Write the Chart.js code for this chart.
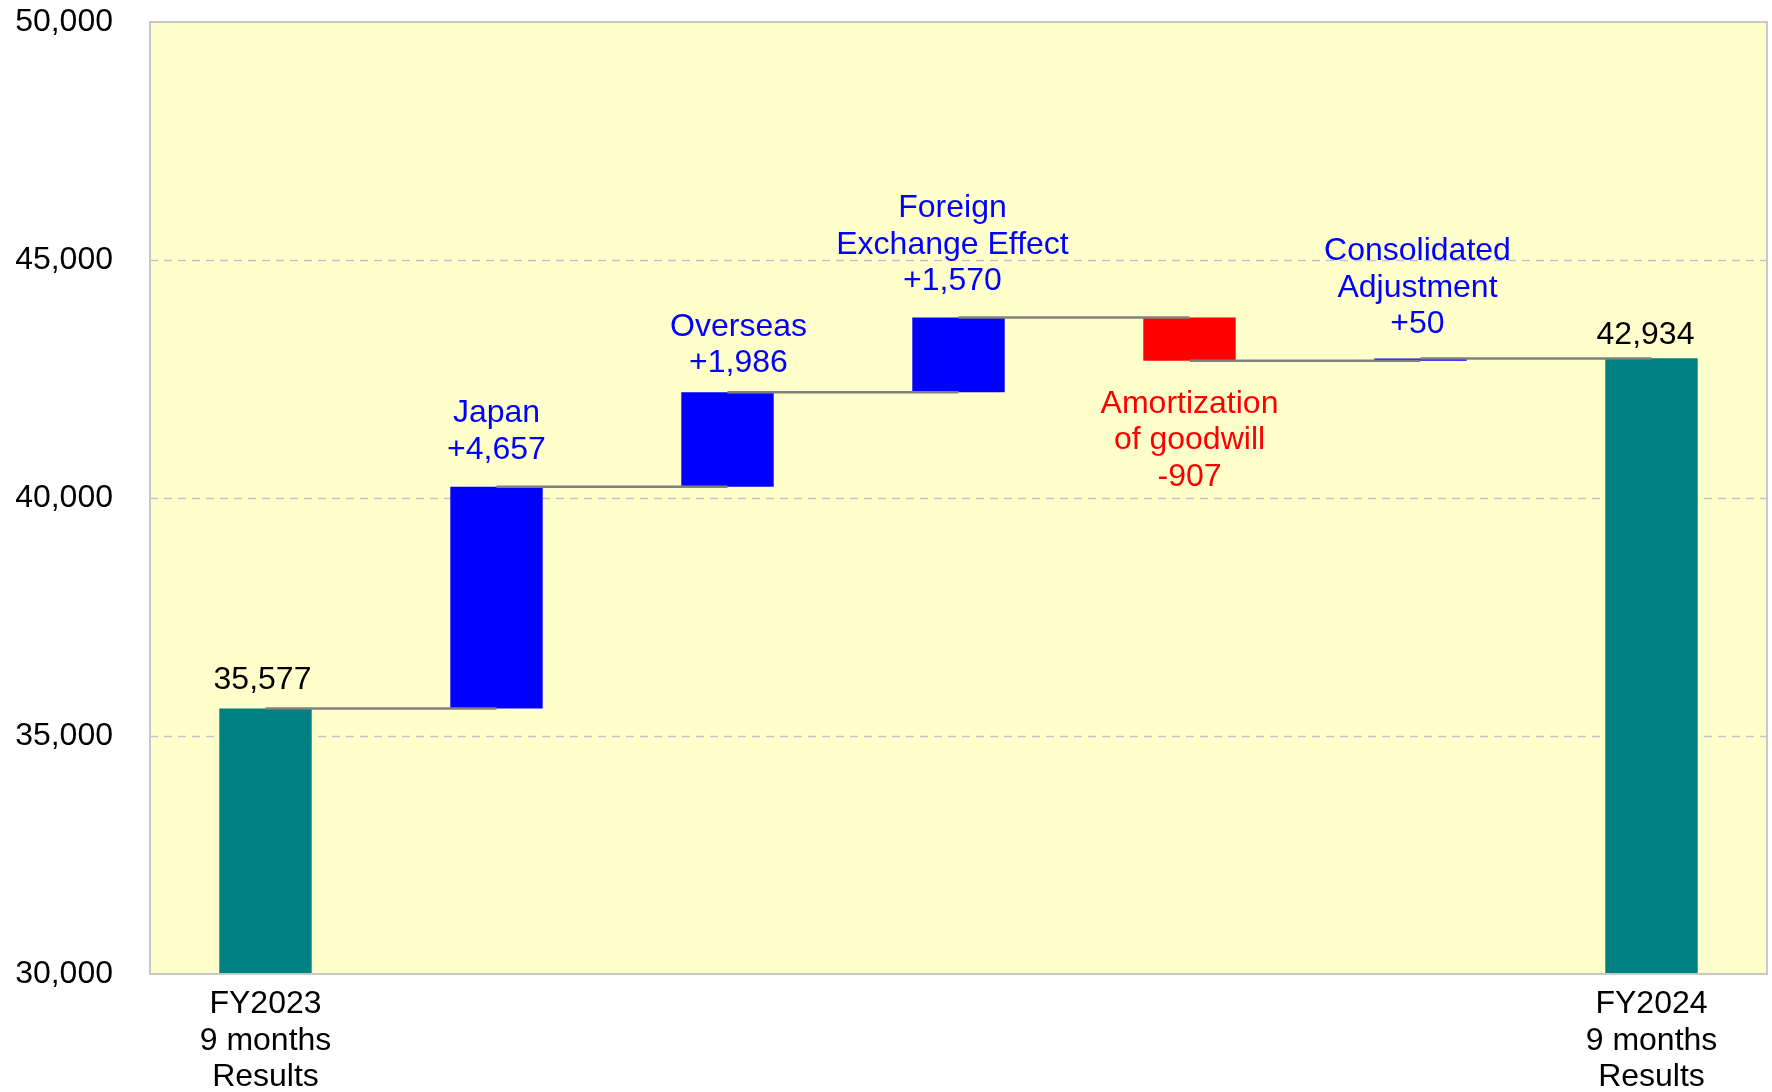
<!DOCTYPE html>
<html>
<head>
<meta charset="utf-8">
<script src="https://cdn.jsdelivr.net/npm/chart.js@4/dist/chart.umd.min.js"></script>
<style>
  html, body { margin: 0; padding: 0; background: #ffffff; }
  #wrap { width: 1772px; height: 1092px; }
</style>
</head>
<body>
<div id="wrap"><canvas id="c" width="1772" height="1092"></canvas></div>
<script>
// ---- data ----
const categories = ['FY2023 9 months Results', 'Japan', 'Overseas', 'Foreign Exchange Effect',
  'Amortization of goodwill', 'Consolidated Adjustment', 'FY2024 9 months Results'];
const tickLabels = [['FY2023', '9 months', 'Results'], '', '', '', '', '', ['FY2024', '9 months', 'Results']];
const startTotal = 35577;
const changes = [4657, 1986, 1570, -907, 50];
const endTotal = 42934;
const nameLines = [[], ['Japan'], ['Overseas'], ['Foreign', 'Exchange Effect'],
  ['Amortization', 'of goodwill'], ['Consolidated', 'Adjustment'], []];
const yTicks = { min: 30000, max: 50000, step: 5000 };

// ---- build floating bars from the arrays ----
const levels = [startTotal];
changes.forEach(c => levels.push(levels[levels.length - 1] + c));
const barData = [[0, startTotal]];
changes.forEach((c, i) => barData.push([levels[i], levels[i + 1]]));
barData.push([0, endTotal]);
const connectLevels = levels.slice(); // level at right edge of bars 0..5
const kinds = ['total'].concat(changes.map(c => c >= 0 ? 'up' : 'down')).concat(['total']);
const colors = { total: '#008080', up: '#0000FF', down: '#FF0000' };
const textColors = { total: '#000000', up: '#0000FF', down: '#FF0000' };
const fmt = v => Math.abs(v).toLocaleString('en-US');
const valueText = [fmt(startTotal)].concat(changes.map(c => (c >= 0 ? '+' : '-') + fmt(c))).concat([fmt(endTotal)]);

const FONT = 'Arial, "Liberation Sans", sans-serif';
const FS = 32;
const LINE_H = 36.5;
// label placement nudges (px): vertical distance from bar edge to nearest line centre, horizontal shift
const labelGap = [28, 37, 29, 36, 43, 34, 23];
const labelShift = [-3, 0, 11, -6, 0, -3, -6];

const waterfallPlugin = {
  id: 'waterfall',
  beforeDatasetsDraw(chart) {
    const { ctx, chartArea: a, scales: { y } } = chart;
    ctx.save();
    ctx.fillStyle = '#FFFFCC';
    ctx.fillRect(a.left, a.top, a.width, a.height);
    ctx.strokeStyle = '#C2C2CA';
    ctx.lineWidth = 1.5;
    ctx.setLineDash([8, 6]);
    y.ticks.forEach(t => {
      if (t.value > y.min && t.value < y.max) {
        const py = Math.round(y.getPixelForValue(t.value)) + 0.5;
        ctx.beginPath(); ctx.moveTo(a.left, py); ctx.lineTo(a.right, py); ctx.stroke();
      }
    });
    ctx.setLineDash([]);
    ctx.restore();
  },
  afterDatasetsDraw(chart) {
    const { ctx, chartArea: a, scales: { y } } = chart;
    const meta = chart.getDatasetMeta(0);
    ctx.save();
    // connectors
    ctx.strokeStyle = '#808080';
    ctx.lineWidth = 2.5;
    for (let i = 0; i < meta.data.length - 1; i++) {
      const py = y.getPixelForValue(connectLevels[i]);
      ctx.beginPath();
      ctx.moveTo(meta.data[i].x, py);
      ctx.lineTo(meta.data[i + 1].x, py);
      ctx.stroke();
    }
    // plot border
    ctx.strokeStyle = '#C8C8C8';
    ctx.lineWidth = 2;
    ctx.strokeRect(a.left, a.top, a.width, a.height);
    // labels
    ctx.font = FS + 'px ' + FONT;
    ctx.textAlign = 'center';
    ctx.textBaseline = 'middle';
    meta.data.forEach((el, i) => {
      const top = Math.min(el.y, el.base);
      const bottom = Math.max(el.y, el.base);
      const lines = nameLines[i].concat([valueText[i]]);
      const x = el.x + labelShift[i];
      ctx.fillStyle = textColors[kinds[i]];
      if (kinds[i] === 'down') {
        lines.forEach((t, k) => ctx.fillText(t, x, bottom + labelGap[i] + k * LINE_H));
      } else {
        const n = lines.length;
        lines.forEach((t, k) => ctx.fillText(t, x, top - labelGap[i] - (n - 1 - k) * LINE_H));
      }
    });
    ctx.restore();
  }
};

new Chart(document.getElementById('c'), {
  type: 'bar',
  data: {
    labels: tickLabels,
    datasets: [{
      data: barData,
      backgroundColor: kinds.map(k => colors[k]),
      borderWidth: 0,
      barPercentage: 0.4,
      categoryPercentage: 1.0
    }]
  },
  options: {
    responsive: false,
    animation: false,
    devicePixelRatio: 1,
    layout: { padding: { top: 22, right: 5, left: 0, bottom: 0 } },
    plugins: { legend: { display: false }, tooltip: { enabled: false } },
    scales: {
      x: {
        grid: { display: false, drawTicks: false },
        border: { display: false },
        ticks: {
          color: '#000000', font: { family: FONT, size: FS, lineHeight: LINE_H / FS },
          padding: 12, maxRotation: 0, autoSkip: false
        },
        afterFit: s => { s.height = 118; s.paddingLeft = 0; s.paddingRight = 0; }
      },
      y: {
        min: yTicks.min, max: yTicks.max,
        grid: { display: false, drawTicks: false },
        border: { display: false },
        ticks: {
          stepSize: yTicks.step,
          color: '#000000', font: { family: FONT, size: FS },
          padding: 37,
          callback: v => v.toLocaleString('en-US')
        },
        afterFit: s => { s.width = 150; s.paddingTop = 0; s.paddingBottom = 0; }
      }
    }
  },
  plugins: [waterfallPlugin]
});
</script>
</body>
</html>
